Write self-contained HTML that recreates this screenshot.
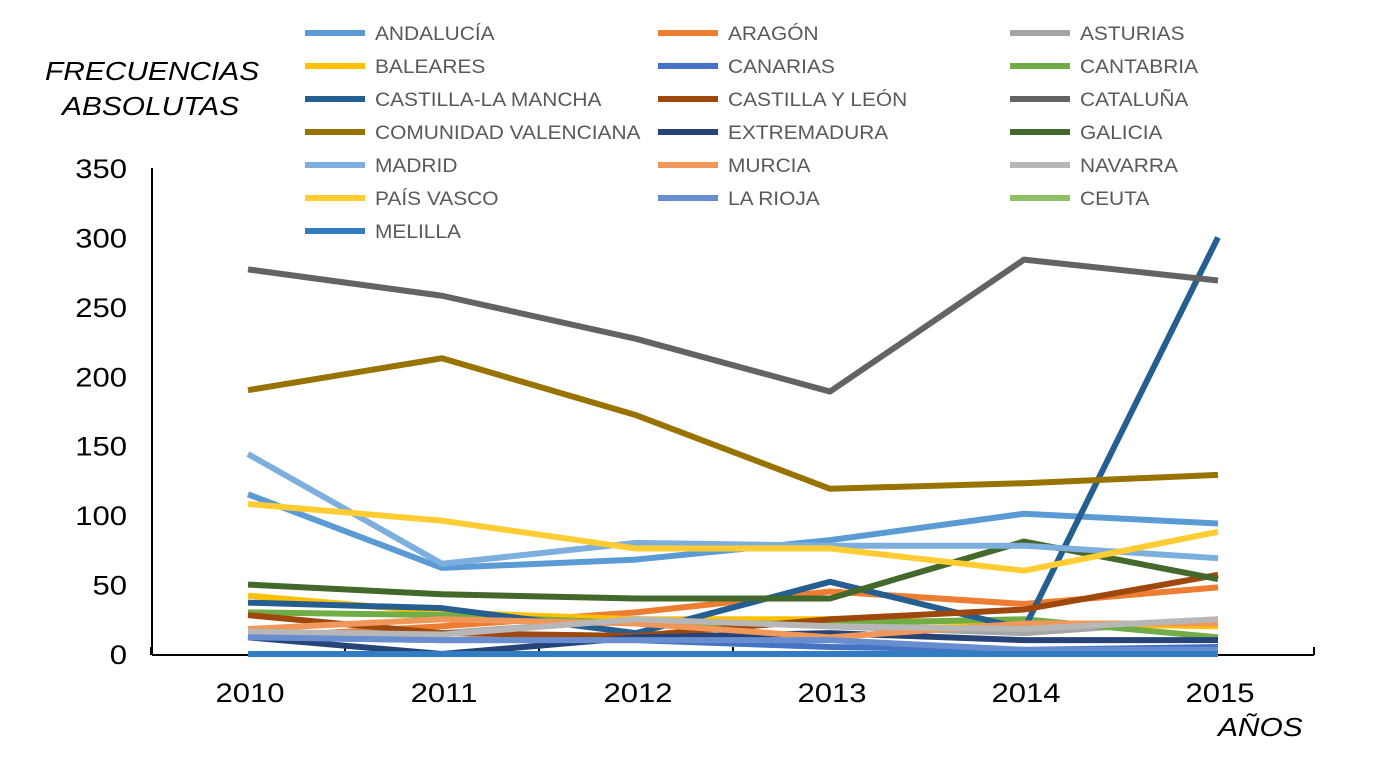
<!DOCTYPE html>
<html><head><meta charset="utf-8"><style>
body{margin:0;background:#fff;}
svg{display:block;font-family:"Liberation Sans",Arial,sans-serif;}
</style></head><body>
<svg id="c" width="1397" height="758"></svg>
<script>
const years=["2010","2011","2012","2013","2014","2015"];
const yTicks=[0,50,100,150,200,250,300,350];
const names=["ANDALUCÍA","ARAGÓN","ASTURIAS","BALEARES","CANARIAS","CANTABRIA","CASTILLA-LA MANCHA","CASTILLA Y LEÓN","CATALUÑA","COMUNIDAD VALENCIANA","EXTREMADURA","GALICIA","MADRID","MURCIA","NAVARRA","PAÍS VASCO","LA RIOJA","CEUTA","MELILLA"];
const colors=["#5B9BD5","#ED7D31","#A5A5A5","#FFC000","#4472C4","#70AD47","#255E91","#9E480E","#636363","#997300","#264478","#43682B","#7CAFDD","#F1975A","#B7B7B7","#FFCD33","#698ED0","#8CC168","#327DC2"];
const andalucia=[115,62,68,82,101,94];
const aragon=[12,20,30,45,36,48];
const asturias=[15,15,25,20,15,25];
const baleares=[42,30,25,25,22,20];
const canarias=[12,10,10,5,3,5];
const cantabria=[30,28,22,22,25,12];
const clm=[37,33,15,52,18,300];
const cyl=[28,15,13,25,32,57];
const cataluna=[277,258,227,189,284,269];
const valenciana=[190,213,172,119,123,129];
const extremadura=[12,0,12,15,10,10];
const galicia=[50,43,40,40,81,54];
const madrid=[144,65,80,78,78,69];
const murcia=[18,25,22,12,22,22];
const navarra=[16,14,25,20,18,25];
const paisVasco=[108,96,76,76,60,88];
const rioja=[12,10,10,10,3,3];
const ceuta=[0,0,0,0,0,0];
const melilla=[0,0,0,0,0,0];
const series=[andalucia,aragon,asturias,baleares,canarias,cantabria,clm,cyl,cataluna,valenciana,extremadura,galicia,madrid,murcia,navarra,paisVasco,rioja,ceuta,melilla];

const NS="http://www.w3.org/2000/svg";
const svg=document.getElementById('c');
function el(t,a,p){const e=document.createElementNS(NS,t);for(const k in a)e.setAttribute(k,a[k]);(p||svg).appendChild(e);return e;}
function txt(x,y,s,size,anchor,sx,italic,fill,p){
 const e=el('text',{x:0,y:0,transform:'translate('+x+','+y+') scale('+sx+',1)','font-size':size,'text-anchor':anchor,fill:fill||'#000','font-style':italic?'italic':'normal'},p);
 e.textContent=s;return e;}
const x0=248,dx=194,yb=654,ppu=486/350;
const X=i=>x0+i*dx, Y=v=>yb-v*ppu;

let t;
t=txt(45,80,"FRECUENCIAS",26,'start',1.15,true);

t=txt(62,115,"ABSOLUTAS",26,'start',1.15,true);

t=txt(1218,736,"AÑOS",26,'start',1.15,true);


yTicks.forEach(v=>{const e=txt(127,Y(v)+10,String(v),27,'end',1.15,false);
});
let a=el('line',{x1:152,y1:168,x2:152,y2:655,stroke:'#000','stroke-width':2});

a=el('line',{x1:152,y1:655,x2:1314,y2:655,stroke:'#000','stroke-width':2});

years.forEach((y,i)=>{
 const tk=el('line',{x1:X(i)-97,y1:647,x2:X(i)-97,y2:655,stroke:'#000','stroke-width':2});
 
 const e=txt(X(i)+2,702,y,27,'middle',1.15,false);
 
});
const tk=el('line',{x1:1314,y1:647,x2:1314,y2:655,stroke:'#000','stroke-width':2});


series.forEach((s,k)=>{
 const p=el('polyline',{points:s.map((v,i)=>X(i)+','+Y(v)).join(' '),fill:'none',stroke:colors[k],'stroke-width':6,'stroke-linejoin':'round'});
 
 
});
names.forEach((n,k)=>{
 const col=k%3,row=Math.floor(k/3);
 const lx=[305,658,1010][col],ly=33+row*33;
 const g=el('g',{});
 
 el('line',{x1:lx,y1:ly,x2:lx+60,y2:ly,stroke:colors[k],'stroke-width':6},g);
 txt(lx+70,ly+7,n,19,'start',1.1,false,'#595959',g);
});
</script>
</body></html>
